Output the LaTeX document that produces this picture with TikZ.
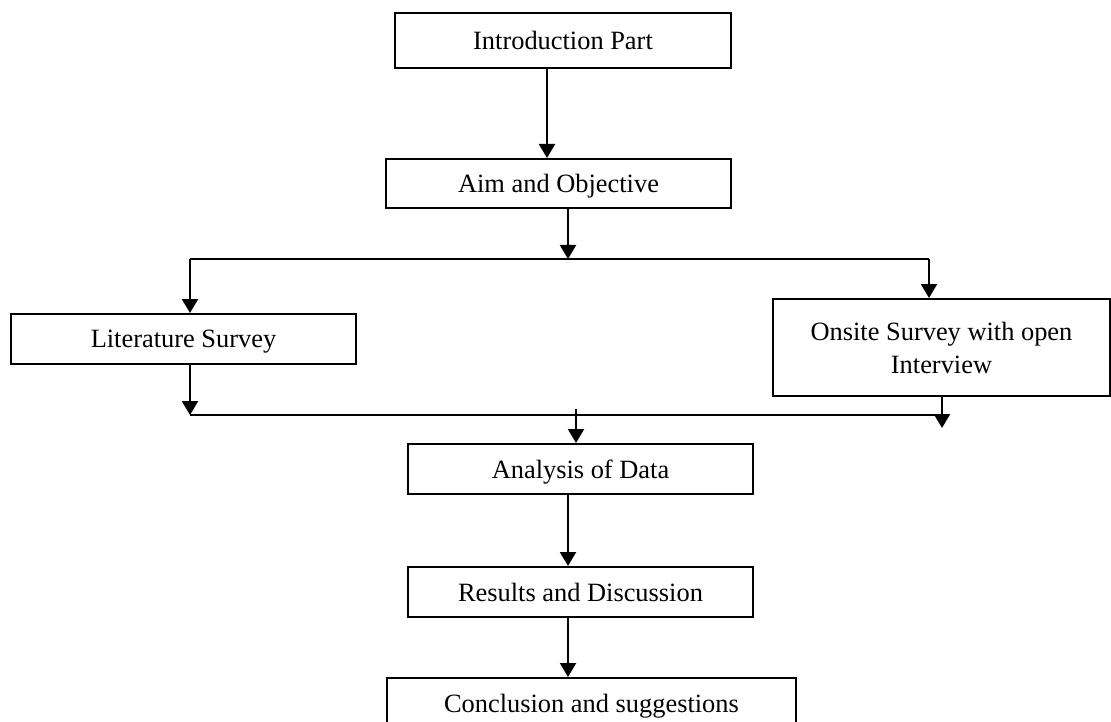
\documentclass[tikz,border=0pt]{standalone}
\usepackage{fontspec}
\setmainfont{Liberation Serif}
\usetikzlibrary{arrows.meta}
\begin{document}
\begin{tikzpicture}[x=1pt,y=-1pt,
  box/.style={draw=black,line width=2pt,rectangle,inner sep=0pt,align=center,
    font=\fontsize{26.4}{33}\selectfont},
  onebox/.style={box,text depth=0pt},
  conn/.style={draw=black,line width=2.2pt},
  arr/.style={conn,-{Triangle[length=14pt,width=16pt]}}]
\useasboundingbox (0,0) rectangle (1111,722);
\clip (0,0) rectangle (1111,722);
\fill[white] (0,0) rectangle (1111,722);
% boxes
\node[onebox,minimum width=336pt,minimum height=55pt] (intro) at (563,40.5) {Introduction Part};
\node[onebox,minimum width=345pt,minimum height=49pt] (aim) at (558.5,183.5) {Aim and Objective};
\node[onebox,minimum width=345pt,minimum height=50pt] (lit) at (183.5,339) {Literature Survey};
\node[box,minimum width=337pt,minimum height=97pt] (onsite) at (941.5,347.5) {Onsite Survey with open\\Interview};
\node[onebox,minimum width=345pt,minimum height=50pt] (ana) at (580.5,469) {Analysis of Data};
\node[onebox,minimum width=345pt,minimum height=50pt] (res) at (580.5,592) {Results and Discussion};
\node[onebox,minimum width=409pt,minimum height=50pt] (conc) at (591.5,703) {Conclusion and suggestions};
% junction coordinates
\coordinate (c1) at (547,0);
\coordinate (c2) at (568,0);
\coordinate (s1) at (568,259);
\coordinate (sL) at (190,259);
\coordinate (sR) at (929,259);
\coordinate (m1) at (190,415);
\coordinate (mR) at (942,415);
\coordinate (mRt) at (942,428);
\coordinate (m2) at (576,409);
% connectors
\draw[arr] (intro.south -| c1) -- (aim.north -| c1);
\draw[arr] (aim.south -| s1) -- (s1);
\draw[conn] (sL) -- (sR);
\draw[arr] (sL) -- (lit.north -| sL);
\draw[arr] (sR) -- (onsite.north -| sR);
\draw[arr] (lit.south -| m1) -- (m1);
\draw[arr] (onsite.south -| mR) -- (mRt);
\draw[conn] (m1) -- (mR);
\draw[arr] (m2) -- (ana.north -| m2);
\draw[arr] (ana.south -| c2) -- (res.north -| c2);
\draw[arr] (res.south -| c2) -- (conc.north -| c2);
\end{tikzpicture}
\end{document}
